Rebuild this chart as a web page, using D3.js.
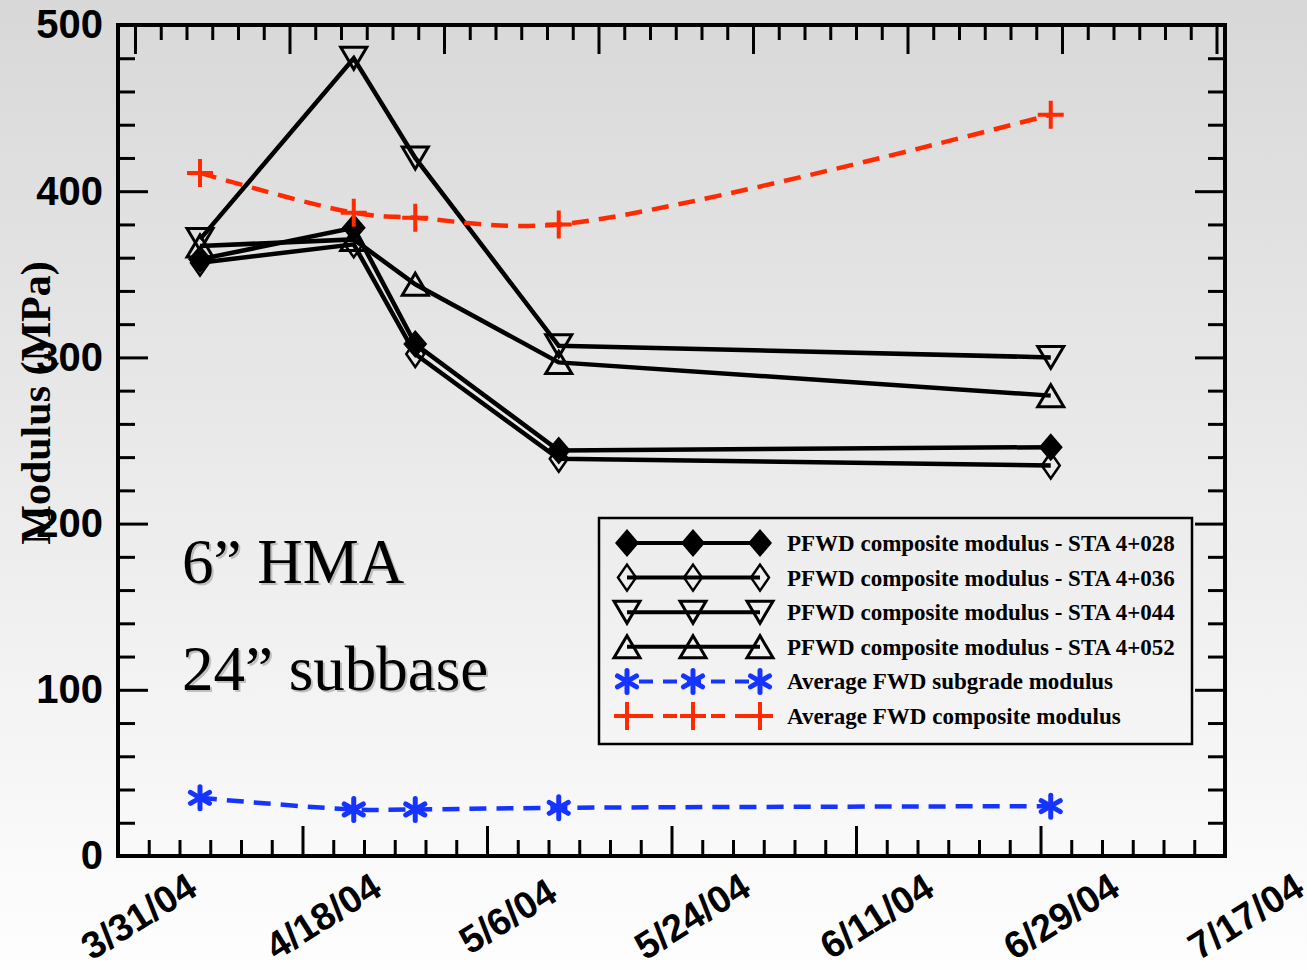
<!DOCTYPE html>
<html>
  <head>
    <title>PFWD / FWD modulus</title>
    <script src="https://d3js.org/d3.v7.min.js"></script>
    <style>
      body { margin: 0; }
      .ylab text { font-family: "Liberation Sans", Arial, sans-serif; font-weight: bold; font-size: 40px; fill: #000; }
      .xlab text { font-family: "Liberation Sans", Arial, sans-serif; font-weight: bold; font-size: 38px; fill: #000; }
      .legend-text { font-family: "Liberation Serif", "Times New Roman", serif; font-weight: bold; font-size: 23px; }
      .note { font-family: "Liberation Serif", "Times New Roman", serif; font-size: 63px; }
    </style>
  </head>
  <body>
    <div id="chart"></div>
    <script>
      // data
      const dates = ["4/8/04", "4/23/04", "4/29/04", "5/13/04", "6/30/04"];
      const sta028 = [359, 378, 308, 244, 246];
      const sta036 = [357, 368, 302, 239, 235];
      const sta044 = [371, 480, 420, 307, 300];
      const sta052 = [367, 371, 344, 297, 277];
      const fwdSubgrade = [35, 28, 28, 29, 30];
      const fwdComposite = [411, 387, 384, 380, 446];
      const xTickLabels = ["3/31/04", "4/18/04", "5/6/04", "5/24/04", "6/11/04", "6/29/04", "7/17/04"];
      const yTicks = [0, 100, 200, 300, 400, 500];

      const seriesNames = [
        "PFWD composite modulus - STA 4+028",
        "PFWD composite modulus - STA 4+036",
        "PFWD composite modulus - STA 4+044",
        "PFWD composite modulus - STA 4+052",
        "Average FWD subgrade modulus",
        "Average FWD composite modulus",
      ];

      const W = 1307, H = 970;
      const margin = { top: 25, right: 82, bottom: 114, left: 118 };
      const width = W - margin.left - margin.right;
      const height = H - margin.top - margin.bottom;
      const parse = d3.utcParse("%m/%d/%y");
      const fmt = d3.utcFormat("%-m/%-d/%y");

      const svg = d3.select("#chart").append("svg")
        .attr("width", W).attr("height", H);

      const defs = svg.append("defs");
      const grad = defs.append("linearGradient").attr("id", "bg")
        .attr("x1", 0).attr("y1", 0).attr("x2", 0).attr("y2", 1);
      grad.append("stop").attr("offset", "0%").attr("stop-color", "#d8d8d8");
      grad.append("stop").attr("offset", "100%").attr("stop-color", "#fefefe");
      svg.append("rect").attr("width", W).attr("height", H).attr("fill", "url(#bg)");

      const g = svg.append("g").attr("transform", `translate(${margin.left},${margin.top})`);

      const x = d3.scaleUtc()
        .domain([parse(xTickLabels[0]), parse(xTickLabels[xTickLabels.length - 1])])
        .range([0, width]);
      const y = d3.scaleLinear().domain([0, 500]).range([height, 0]);
      // top axis uses its own spacing in the original
      const xTop = d3.scaleLinear().domain([-0.11, 7.055]).range([0, width]);

      const majorDates = xTickLabels.map(parse);
      const minorDates = d3.range(0, 109, 3).map((d) => d3.utcDay.offset(majorDates[0], d))
        .filter((d, i) => i % 6 !== 0);
      const yMinor = d3.range(0, 501, 20).filter((v) => v % 100 !== 0);

      // ticks (all inward)
      g.append("g").attr("transform", `translate(0,${height})`)
        .call(d3.axisBottom(x).tickValues(minorDates).tickSize(-16).tickFormat(""));
      const xAxis = g.append("g").attr("class", "xlab").attr("transform", `translate(0,${height})`)
        .call(d3.axisBottom(x).tickValues(majorDates).tickSize(-30).tickFormat(fmt));
      xAxis.selectAll("text")
        .attr("y", 0).attr("dy", "0.35em")
        .attr("text-anchor", "middle")
        .attr("transform", "translate(20,60) rotate(-32)");

      g.append("g").call(d3.axisTop(xTop).tickValues(d3.range(0, 7.01, 1 / 6).filter((v, i) => i % 6 !== 0)).tickSize(-15).tickFormat(""));
      g.append("g").call(d3.axisTop(xTop).tickValues(d3.range(0, 8)).tickSize(-29).tickFormat(""));

      g.append("g").call(d3.axisLeft(y).tickValues(yMinor).tickSize(-17).tickFormat(""));
      g.append("g").attr("class", "ylab")
        .call(d3.axisLeft(y).tickValues(yTicks).tickSize(-30).tickPadding(15));
      g.append("g").attr("transform", `translate(${width},0)`)
        .call(d3.axisRight(y).tickValues(yMinor).tickSize(-17).tickFormat(""));
      g.append("g").attr("transform", `translate(${width},0)`)
        .call(d3.axisRight(y).tickValues(yTicks).tickSize(-30).tickFormat(""));

      g.selectAll(".domain").remove();
      g.selectAll(".tick line").attr("stroke", "#000").attr("stroke-width", 3);

      g.append("rect").attr("width", width).attr("height", height)
        .attr("fill", "none").attr("stroke", "#000").attr("stroke-width", 4);

      // y title
      svg.append("text")
        .attr("transform", "translate(50,403) rotate(-90)")
        .attr("text-anchor", "middle")
        .style("font-family", "'Liberation Serif', 'Times New Roman', serif")
        .style("font-weight", "bold")
        .style("font-size", "42px")
        .text("Modulus (MPa)");

      // notes
      const notes = [["6\u201D HMA", 583], ["24\u201D subbase", 690]];
      notes.forEach(([t, yy]) => {
        svg.append("text").attr("class", "note").attr("x", 184).attr("y", yy + 2)
          .attr("fill", "#aaa").attr("opacity", 0.7).text(t);
        svg.append("text").attr("class", "note").attr("x", 182).attr("y", yy)
          .attr("fill", "#000").text(t);
      });

      function marker(sel, type, cx, cy) {
        if (type === "diamondFilled") {
          sel.append("path").attr("d", `M${cx},${cy - 14}L${cx + 12},${cy}L${cx},${cy + 14}L${cx - 12},${cy}Z`)
            .attr("fill", "#000");
        } else if (type === "diamondOpen") {
          sel.append("path").attr("d", `M${cx},${cy - 13}L${cx + 9},${cy}L${cx},${cy + 13}L${cx - 9},${cy}Z`)
            .attr("fill", "none").attr("stroke", "#000").attr("stroke-width", 2.5);
        } else if (type === "triDown") {
          sel.append("path").attr("d", `M${cx - 13},${cy - 11}L${cx + 13},${cy - 11}L${cx},${cy + 11}Z`)
            .attr("fill", "none").attr("stroke", "#000").attr("stroke-width", 3);
        } else if (type === "triUp") {
          sel.append("path").attr("d", `M${cx - 13},${cy + 11}L${cx + 13},${cy + 11}L${cx},${cy - 11}Z`)
            .attr("fill", "none").attr("stroke", "#000").attr("stroke-width", 3);
        } else if (type === "asterisk") {
          [90, 30, 150].forEach((a) => {
            const r = 11, dx = r * Math.cos(a * Math.PI / 180), dy = r * Math.sin(a * Math.PI / 180);
            sel.append("line").attr("x1", cx - dx).attr("y1", cy - dy).attr("x2", cx + dx).attr("y2", cy + dy)
              .attr("stroke", "#1634ff").attr("stroke-width", 5).attr("stroke-linecap", "round");
          });
        } else if (type === "plus") {
          sel.append("path").attr("d", `M${cx - 13},${cy}H${cx + 13}M${cx},${cy - 14}V${cy + 14}`)
            .attr("stroke", "#ff2a00").attr("stroke-width", 4).attr("fill", "none");
        }
      }

      const series = [
        { name: seriesNames[0], values: sta028, color: "#000", dash: null, curve: d3.curveLinear, type: "diamondFilled" },
        { name: seriesNames[1], values: sta036, color: "#000", dash: null, curve: d3.curveLinear, type: "diamondOpen" },
        { name: seriesNames[2], values: sta044, color: "#000", dash: null, curve: d3.curveLinear, type: "triDown" },
        { name: seriesNames[3], values: sta052, color: "#000", dash: null, curve: d3.curveLinear, type: "triUp" },
        { name: seriesNames[4], values: fwdSubgrade, color: "#1634ff", dash: "17,10", curve: d3.curveCatmullRom, type: "asterisk" },
        { name: seriesNames[5], values: fwdComposite, color: "#ff2a00", dash: "17,10", curve: d3.curveCatmullRom, type: "plus" },
      ];
      const drawOrder = [0, 1, 2, 3, 5, 4];

      drawOrder.forEach((si) => {
        const s = series[si];
        const pts = dates.map((d, i) => [x(parse(d)), y(s.values[i])]);
        g.append("path").datum(pts)
          .attr("d", d3.line().curve(s.curve))
          .attr("fill", "none").attr("stroke", s.color).attr("stroke-width", 4.5)
          .attr("stroke-dasharray", s.dash);
        const mg = g.append("g");
        pts.forEach((p) => marker(mg, s.type, p[0], p[1]));
      });

      // legend
      const lg = svg.append("g");
      lg.append("rect").attr("x", 599).attr("y", 518).attr("width", 593).attr("height", 226)
        .attr("fill", "none").attr("stroke", "#000").attr("stroke-width", 2.5);
      series.forEach((s, i) => {
        const ly = 543 + i * 34.6;
        lg.append("line").attr("x1", 627).attr("x2", 760).attr("y1", ly).attr("y2", ly)
          .attr("stroke", s.color).attr("stroke-width", 4).attr("stroke-dasharray", s.dash ? "14,10" : null)
          .attr("stroke-dashoffset", s.dash ? -12 : null);
        [627, 693, 760].forEach((mx) => marker(lg, s.type, mx, ly));
        lg.append("text").attr("class", "legend-text").attr("x", 787).attr("y", ly).attr("dy", "0.35em")
          .text(s.name);
      });
    </script>
  </body>
</html>
